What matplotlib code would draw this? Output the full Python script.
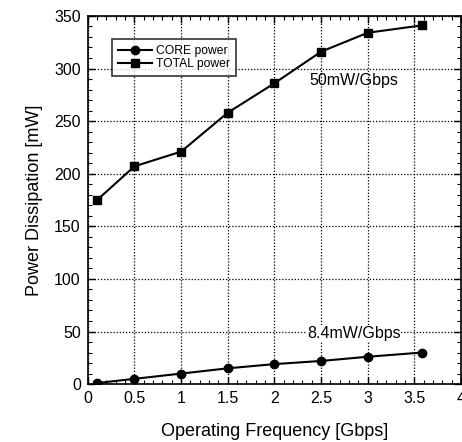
import matplotlib
matplotlib.use("Agg")
from matplotlib import pyplot as plot
from matplotlib.ticker import MultipleLocator

plot.rcParams['font.family'] = ['Liberation Sans', 'DejaVu Sans']

freq = [0.1, 0.5, 1.0, 1.5, 2.0, 2.5, 3.0, 3.58]
core = [1, 5, 10, 15, 19, 22, 26, 30]
total = [175, 207, 221, 258, 286, 316, 334, 341]

fig = plot.figure(figsize=(4.62, 4.42), dpi=100)
ax = fig.add_axes([0.19, 0.131, 0.808, 0.833])

ax.plot(freq, core, color="black", marker="o", markersize=6, linewidth=1.5, label="CORE power")
ax.plot(freq, total, color="black", marker="s", markersize=6, linewidth=1.5, label="TOTAL power")

ax.set_xlim(0, 4)
ax.set_ylim(0, 350)
ax.xaxis.set_major_locator(MultipleLocator(0.5))
ax.xaxis.set_minor_locator(MultipleLocator(0.1))
ax.yaxis.set_major_locator(MultipleLocator(50))
ax.yaxis.set_minor_locator(MultipleLocator(10))
ax.set_xticks([0, 0.5, 1, 1.5, 2, 2.5, 3, 3.5, 4])
ax.set_xticklabels(["0", "0.5", "1", "1.5", "2", "2.5", "3", "3.5", "4"])
ax.tick_params(which="both", direction="in", top=True, right=True, labelsize=11.5)
ax.tick_params(which="major", length=5, width=1, pad=5)
ax.tick_params(which="minor", length=3, width=0.8)
ax.grid(True, which="major", linestyle=(0, (1, 1.5)), color="black", linewidth=0.9)
for s in ax.spines.values():
    s.set_linewidth(1.2)

ax.set_xlabel("Operating Frequency [Gbps]", fontsize=13, labelpad=12)
ax.set_ylabel("Power Dissipation [mW]", fontsize=13, labelpad=8)

ax.text(2.37, 289, "50mW/Gbps", fontsize=11.5, va="center", ha="left")
ax.text(2.35, 48, "8.4mW/Gbps", fontsize=11.5, va="center", ha="left",
        bbox=dict(facecolor="white", edgecolor="none", pad=0.5))

leg = ax.legend(loc="upper left", bbox_to_anchor=(0.064, 0.9375), fontsize=8.7,
                frameon=True, fancybox=False, handlelength=2.8, handletextpad=0.4,
                borderpad=0.5, labelspacing=0.1, borderaxespad=0)
leg.get_frame().set_edgecolor("black")
leg.get_frame().set_linewidth(1.2)

plot.savefig("out.png", dpi=100)
